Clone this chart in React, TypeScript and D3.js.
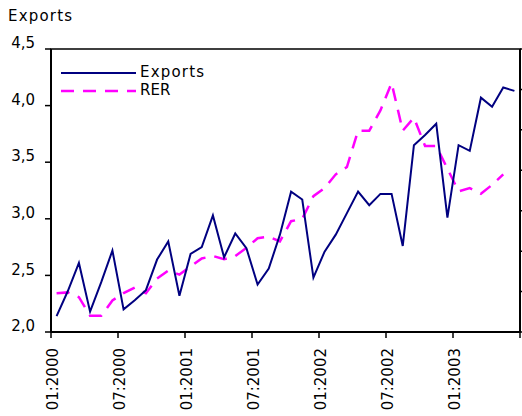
import React from "react";
import * as d3 from "d3";

const width = 522;
const height = 416;
const plot = { left: 51, right: 520, top: 49, bottom: 332 };

// monthly, 01:2000 .. 06:2003
const tickLabels = ["01:2000", "07:2000", "01:2001", "07:2001", "01:2002", "07:2002", "01:2003"];
const yTicks = [2.0, 2.5, 3.0, 3.5, 4.0, 4.5];

const exports = [
  2.14, 2.36, 2.61, 2.18, 2.44, 2.72, 2.20, 2.28, 2.37, 2.64, 2.80, 2.32,
  2.69, 2.75, 3.03, 2.66, 2.87, 2.74, 2.42, 2.56, 2.86, 3.24, 3.17, 2.48,
  2.71, 2.86, 3.05, 3.24, 3.12, 3.22, 3.22, 2.76, 3.65, 3.74, 3.84, 3.01,
  3.65, 3.60, 4.07, 3.99, 4.16, 4.13,
];

// real exchange rate, secondary axis (labels not shown)
const rer = [
  94.8, 94.9, 94.3, 92.0, 92.0, 93.9, 94.8, 95.5, 94.8, 96.6, 97.6, 97.1,
  98.1, 99.1, 99.4, 99.0, 99.4, 100.4, 101.6, 101.8, 101.2, 103.7, 104.0, 106.8,
  107.8, 109.5, 110.4, 114.9, 114.9, 117.4, 120.8, 114.9, 116.5, 113.0, 113.0, 110.2,
  107.4, 107.8, 107.1, 108.2, 109.5,
];

const font = "'DejaVu Sans', Verdana, sans-serif";

export default function App() {
  const x = d3.scaleLinear().domain([0, 42]).range([plot.left, plot.right]);
  const y = d3.scaleLinear().domain([2, 4.5]).range([plot.bottom, plot.top]);
  const y2 = d3.scaleLinear().domain([90, 125]).range([plot.bottom, plot.top]);

  const exportsLine = d3.line<number>()
    .x((d, i) => x(i + 0.5))
    .y(d => y(d));
  const rerLine = d3.line<number>()
    .x((d, i) => x(i + 0.5))
    .y(d => y2(d));

  const xTicks = d3.range(0, 43, 6);
  const y2Ticks = d3.range(90, 126, 5);

  return (
    <svg width={width} height={height} style={{ position: "absolute", left: 0, top: 0, background: "#fff" }}
      fontFamily={font}>
      <text x={8} y={21} fontSize={15} letterSpacing={1.2}>Exports</text>

      {/* frame */}
      <rect x={plot.left} y={plot.top} width={plot.right - plot.left} height={plot.bottom - plot.top}
        fill="none" stroke="#000" strokeWidth={1.5} />

      {/* left axis */}
      <line x1={plot.left} x2={plot.left} y1={plot.top} y2={plot.bottom} stroke="#000" strokeWidth={2} />
      {yTicks.map(t => (
        <g key={t}>
          <line x1={plot.left - 6} x2={plot.left} y1={y(t)} y2={y(t)} stroke="#000" strokeWidth={1.5} />
          <text x={35} y={y(t)} dy="-0.05em" textAnchor="end" fontSize={15}>
            {d3.format(".1f")(t).replace(".", ",")}
          </text>
        </g>
      ))}

      {/* right axis */}
      <line x1={plot.right} x2={plot.right} y1={plot.top} y2={plot.bottom} stroke="#000" strokeWidth={2} />
      {y2Ticks.map(t => (
        <line key={t} x1={plot.right} x2={plot.right + 6} y1={y2(t)} y2={y2(t)} stroke="#000" strokeWidth={1.5} />
      ))}

      {/* bottom axis */}
      <line x1={plot.left} x2={plot.right} y1={plot.bottom} y2={plot.bottom} stroke="#000" strokeWidth={2} />
      {xTicks.map(t => (
        <line key={t} x1={x(t)} x2={x(t)} y1={plot.bottom} y2={plot.bottom + 6} stroke="#000" strokeWidth={1.5} />
      ))}
      {tickLabels.map((lab, i) => (
        <text key={lab} transform={`translate(${x(i * 6) + 1.5},348) rotate(-90)`} dy="0.36em"
          textAnchor="end" fontSize={15}>{lab}</text>
      ))}

      <path d={rerLine(rer) ?? ""} fill="none" stroke="#ff00ff" strokeWidth={2.5} strokeDasharray="13,9" />
      <path d={exportsLine(exports) ?? ""} fill="none" stroke="#000080" strokeWidth={2} strokeLinejoin="miter" />

      {/* legend */}
      <line x1={61} x2={136} y1={73} y2={73} stroke="#000080" strokeWidth={2} />
      <text x={140} y={77} fontSize={15} letterSpacing={1.2}>Exports</text>
      <line x1={61} x2={136} y1={91} y2={91} stroke="#ff00ff" strokeWidth={2.5} strokeDasharray="13,9" />
      <text x={140} y={95} fontSize={15}>RER</text>
    </svg>
  );
}
